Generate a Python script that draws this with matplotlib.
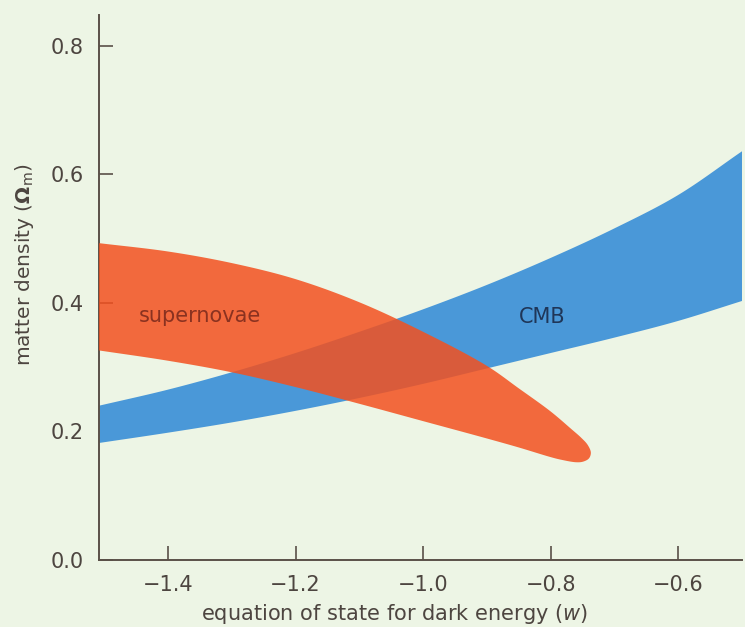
import numpy as np
import matplotlib
matplotlib.use('Agg')
import matplotlib.pyplot as plt

# CMB constraint band (lower / upper edge of matter density vs w)
cmb_w = [-1.508, -1.4, -1.3, -1.2, -1.1, -1.0, -0.9, -0.8, -0.7, -0.6, -0.5]
cmb_upper = [0.240, 0.265, 0.292, 0.322, 0.355, 0.390, 0.428, 0.470, 0.516, 0.568, 0.636]
cmb_lower = [0.182, 0.198, 0.214, 0.232, 0.252, 0.274, 0.298, 0.322, 0.346, 0.372, 0.403]

# supernovae constraint: upper edge (left to right), rounded tip, lower edge (left to right)
sn_upper_w = [-1.508, -1.4, -1.3, -1.2, -1.1, -1.0, -0.9, -0.85, -0.8, -0.768, -0.752, -0.742]
sn_upper = [0.493, 0.480, 0.462, 0.437, 0.401, 0.355, 0.302, 0.267, 0.231, 0.204, 0.190, 0.179]
sn_tip = (-0.737, 0.167)
sn_lower_w = [-1.508, -1.4, -1.3, -1.2, -1.1, -1.0, -0.9, -0.85, -0.8, -0.784, -0.760, -0.749, -0.740]
sn_lower = [0.326, 0.310, 0.292, 0.269, 0.243, 0.216, 0.189, 0.175, 0.160, 0.156, 0.152, 0.153, 0.158]

xticks = [-1.4, -1.2, -1.0, -0.8, -0.6]
yticks = [0.0, 0.2, 0.4, 0.6, 0.8]

bg = '#edf5e5'
ink = '#4d4540'

plt.rcParams['font.family'] = ['DejaVu Sans']
plt.rcParams['mathtext.fontset'] = 'dejavusans'

fig = plt.figure(figsize=(7.45, 6.27), dpi=100, facecolor=bg)
ax = fig.add_axes([0.133, 0.107, 0.863, 0.869])
ax.set_facecolor(bg)


def catmull(px, py, n=40):
    # centripetal catmull-rom through the read-off outline points
    Q = np.column_stack([px, py]).astype(float)
    Q = np.vstack([2 * Q[0] - Q[1], Q, 2 * Q[-1] - Q[-2]])
    out = []
    for i in range(1, len(Q) - 2):
        p0, p1, p2, p3 = Q[i - 1], Q[i], Q[i + 1], Q[i + 2]
        t0 = 0.0
        t1 = t0 + np.linalg.norm(p1 - p0) ** 0.5
        t2 = t1 + np.linalg.norm(p2 - p1) ** 0.5
        t3 = t2 + np.linalg.norm(p3 - p2) ** 0.5
        t = np.linspace(t1, t2, n)[:, None]
        a1 = (t1 - t) / (t1 - t0) * p0 + (t - t0) / (t1 - t0) * p1
        a2 = (t2 - t) / (t2 - t1) * p1 + (t - t1) / (t2 - t1) * p2
        a3 = (t3 - t) / (t3 - t2) * p2 + (t - t2) / (t3 - t2) * p3
        b1 = (t2 - t) / (t2 - t0) * a1 + (t - t0) / (t2 - t0) * a2
        b2 = (t3 - t) / (t3 - t1) * a2 + (t - t1) / (t3 - t1) * a3
        c = (t2 - t) / (t2 - t1) * b1 + (t - t1) / (t2 - t1) * b2
        out.append(c)
    C = np.vstack(out)
    return C[:, 0], C[:, 1]


# CMB band
ux, uy = catmull(cmb_w, cmb_upper)
lx, ly = catmull(cmb_w, cmb_lower)
ax.fill(np.concatenate([ux, lx[::-1]]), np.concatenate([uy, ly[::-1]]),
        color='#4a98d8', lw=0, zorder=2)

# supernovae region
ox = list(sn_upper_w) + [sn_tip[0]] + list(sn_lower_w[::-1])
oy = list(sn_upper) + [sn_tip[1]] + list(sn_lower[::-1])
sx, sy = catmull(ox, oy)
ax.fill(sx, sy, color='#f3511f', alpha=0.85, lw=0, zorder=3)

ax.text(-1.35, 0.38, 'supernovae', color='#8a3220', fontsize=15,
        ha='center', va='center', zorder=4)
ax.text(-0.814, 0.378, 'CMB', color='#1f3658', fontsize=15,
        ha='center', va='center', zorder=4)

ax.set_xlim(-1.508, -0.5)
ax.set_ylim(0.0, 0.848)
ax.set_xticks(xticks)
ax.set_yticks(yticks)
ax.set_xticklabels(['\u2212%.1f' % abs(v) for v in xticks])
ax.set_yticklabels(['%.1f' % v for v in yticks])

for s in ['top', 'right']:
    ax.spines[s].set_visible(False)
for s in ['left', 'bottom']:
    ax.spines[s].set_color('#5a5048')
    ax.spines[s].set_linewidth(1.4)

ax.tick_params(direction='in', length=10, width=1.2, color='#5a5048',
               labelsize=15, labelcolor=ink, pad=11)

ax.set_xlabel(r'equation of state for dark energy ($\it{w}$)', fontsize=15, color=ink)
ax.set_ylabel(r'matter density ($\mathbf{\Omega}_\mathregular{m}$)', fontsize=14.5, color=ink)
ax.xaxis.set_label_coords(0.46, -0.077)
ax.yaxis.set_label_coords(-0.098, 0.541)

fig.savefig('out.png', dpi=100, facecolor=bg)
